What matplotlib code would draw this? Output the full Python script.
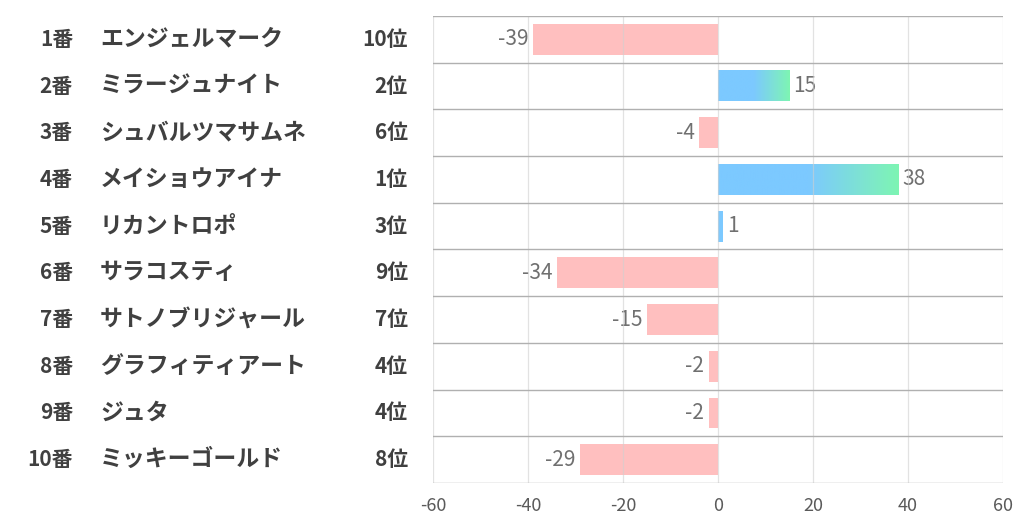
import matplotlib
matplotlib.use('Agg')
import matplotlib.pyplot as plt
import matplotlib.transforms as mtransforms
import numpy as np
from matplotlib.colors import LinearSegmentedColormap

plt.rcParams['font.family'] = ['Noto Sans CJK JP', 'DejaVu Sans']

# データ
numbers = ['1番', '2番', '3番', '4番', '5番', '6番', '7番', '8番', '9番', '10番']
names = ['エンジェルマーク', 'ミラージュナイト', 'シュバルツマサムネ', 'メイショウアイナ', 'リカントロポ',
         'サラコスティ', 'サトノブリジャール', 'グラフィティアート', 'ジュタ', 'ミッキーゴールド']
ranks = ['10位', '2位', '6位', '1位', '3位', '9位', '7位', '4位', '4位', '8位']
values = [-39, 15, -4, 38, 1, -34, -15, -2, -2, -29]
xticks = [-60, -40, -20, 0, 20, 40, 60]

BLUE = '#7cc9ff'
GREEN = '#7ef5b3'
PINK = '#ffbfbf'
TEXT = '#404040'
GRAY = '#707070'

fig = plt.figure(figsize=(10.22, 5.22), dpi=100)
ax = fig.add_axes([433 / 1022, 1 - 483 / 522, 570 / 1022, 467 / 522])

n = len(values)
ys = np.arange(n)
h = 0.66
cmap = LinearSegmentedColormap.from_list('bg', [(0, BLUE), (0.5, BLUE), (1, GREEN)])
grad = np.linspace(0, 1, 256).reshape(1, -1)

for y, v in zip(ys, values):
    if v < 0:
        ax.barh(y, v, height=h, color=PINK, zorder=2)
        ax.text(v - 0.9, y, f'{v}', ha='right', va='center', fontsize=15, color=GRAY)
    else:
        if v >= 5:
            ax.imshow(grad, cmap=cmap, aspect='auto', extent=[0, v, y + h / 2, y - h / 2],
                      zorder=2, interpolation='bilinear')
        else:
            ax.barh(y, v, height=h, color=BLUE, zorder=2)
        ax.text(v + 0.9, y, f'{v}', ha='left', va='center', fontsize=15, color=GRAY)

ax.set_xlim(-60, 60)
ax.set_ylim(n - 0.5, -0.5)

# 縦のグリッド
for x in xticks:
    ax.axvline(x, color='#d0d0d0', lw=0.9, zorder=3, alpha=0.6)
# 行の区切り線
for b in np.arange(n + 1) - 0.5:
    ax.axhline(b, color='#b0b0b0', lw=1, zorder=4)

for s in ax.spines.values():
    s.set_visible(False)
ax.set_xticks(xticks)
ax.set_xticklabels([str(t) for t in xticks], fontsize=13, color='#5a5a5a')
ax.set_yticks([])
ax.tick_params(axis='x', length=0, pad=10)

# 左側のラベル
tr = mtransforms.blended_transform_factory(fig.transFigure, ax.transData)
for y, num, name, rank in zip(ys, numbers, names, ranks):
    ax.text(73 / 1022, y, num, transform=tr, ha='right', va='center',
            fontsize=15, fontweight='bold', color=TEXT, clip_on=False)
    ax.text(100 / 1022, y, name, transform=tr, ha='left', va='center',
            fontsize=16.5, fontweight='bold', color=TEXT, clip_on=False)
    ax.text(408 / 1022, y, rank, transform=tr, ha='right', va='center',
            fontsize=15, fontweight='bold', color=TEXT, clip_on=False)

fig.savefig('out.png', dpi=100)
